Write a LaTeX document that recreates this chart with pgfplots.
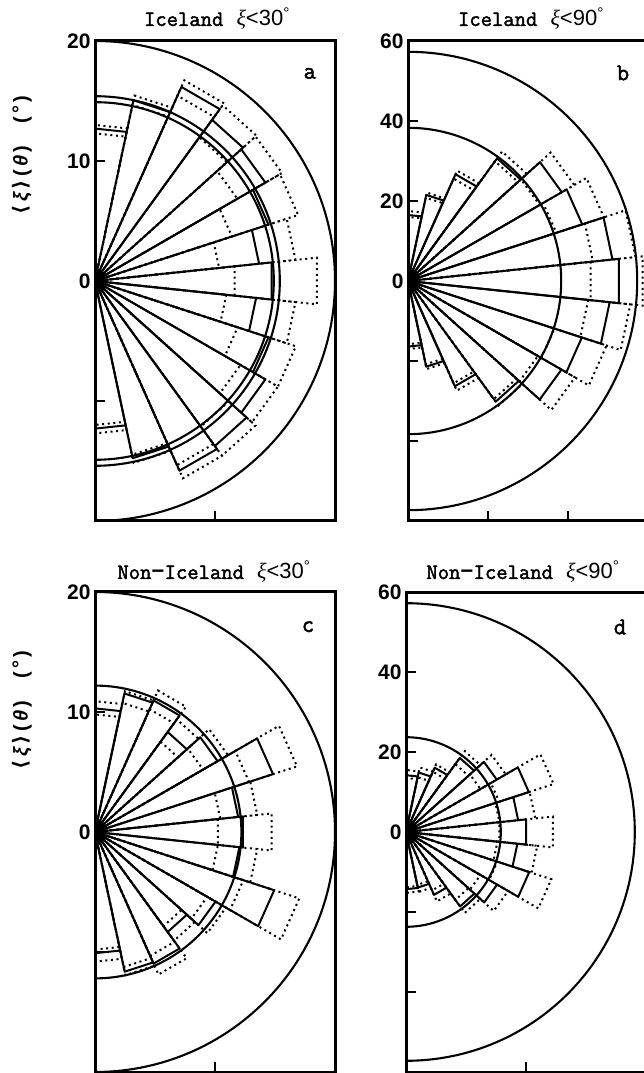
\documentclass[border=0pt]{standalone}
\usepackage{pgfplots}
\pgfplotsset{compat=1.18}
\usepackage{fontspec}
\setmainfont{Liberation Sans}
\setmonofont{Latin Modern Mono}[AutoFakeBold=2]
\newfontfamily\serf{Liberation Serif}
\newfontfamily\dejavu{DejaVu Sans}

% builds three polar coordinate paths (lower, mean, upper) from a1/a2/lo/mid/hi bins
\newcommand\buildrose[1]{%
  \gdef\roselo{}\gdef\rosemid{}\gdef\rosehi{}%
  \foreach \a/\b/\l/\m/\h in {#1} {%
    \xdef\roselo{\roselo (0,0) (\a,\l) (\b,\l)}%
    \xdef\rosemid{\rosemid (0,0) (\a,\m) (\b,\m)}%
    \xdef\rosehi{\rosehi (0,0) (\a,\h) (\b,\h)}%
  }%
}
\newcommand\drawrose{%
  \edef\tmp{\noexpand\addplot[dotrose] coordinates {\roselo (0,0)};}\tmp
  \edef\tmp{\noexpand\addplot[dotrose] coordinates {\rosehi (0,0)};}\tmp
  \edef\tmp{\noexpand\addplot[solidrose] coordinates {\rosemid (0,0)};}\tmp
}
\newcommand\ttl[2]{{\ttfamily\bfseries #1}\hspace{0.6em}{\serf\itshape ξ}<#2\textsuperscript{°}}

\tikzset{
  circ/.style={line width=2.1pt},
  panlab/.style={font=\ttfamily\bfseries\fontsize{24}{24}\selectfont},
}

\begin{document}
\begin{tikzpicture}
\pgfplotsset{
  rose/.style={scale only axis, width=240pt, height=480pt, anchor=south west,
    axis line style={line width=3pt}, tick style={line width=2.4pt, black},
    tick align=inside, major tick length=10pt, xtick pos=bottom, ytick pos=left,
    ticklabel style={font=\fontsize{21}{21}\selectfont\bfseries},
    yticklabel style={xshift=-1pt},
    xticklabels={}, /pgf/number format/assume math mode=true},
  solidrose/.style={black, line width=2pt, mark=none, data cs=polar, line join=round},
  dotrose/.style={black, line width=2pt, mark=none, data cs=polar, dash pattern=on 2pt off 3.6pt},
}

% ---------------- panel a: Iceland xi<30
\buildrose{-90/-78/12.0/12.3/12.7, -78/-66/14.8/15.1/15.5, -66/-54/16.8/17.3/18.0,
  -54/-42/15.0/17.0/18.0, -42/-30/14.0/16.4/17.6, -30/-18/12.5/15.2/17.6,
  -18/-6/11.0/13.5/16.8, -6/6/11.7/14.8/18.6, 6/18/10.4/13.75/16.8,
  18/30/12.0/15.2/17.8, 30/42/13.7/16.4/18.0, 42/54/14.8/16.6/18.1,
  54/66/16.9/17.7/18.3, 66/78/15.0/15.4/15.8, 78/90/12.3/12.7/13.0}
\begin{axis}[rose, at={(95pt,552pt)}, xmin=0, xmax=20, ymin=-20, ymax=20,
  xtick={10}, ytick={-10,0,10,20}, yticklabels={,0,10,20}]
\draw[circ] (axis cs:0,0) circle[radius=20];
\draw[circ] (axis cs:0,0) circle[radius=15.4];
\draw[circ] (axis cs:0,0) circle[radius=14.9];
\drawrose
\node[panlab] at (axis cs:17.9,17.3) {a};
\end{axis}

% ---------------- panel b: Iceland xi<90
\buildrose{-90/-78/15.8/16.4/17.0, -78/-66/21.3/21.9/22.5, -66/-54/28.0/28.8/30.0,
  -54/-42/36.5/37.3/38.5, -42/-30/37.5/44.3/48.2, -30/-18/38.5/45.7/52.2,
  -18/-6/45.3/50.7/55.9, -6/6/45.9/53.0/59.0, 6/18/46.5/51.4/57.2,
  18/30/39.0/45.8/51.5, 30/42/38.0/44.4/48.0, 42/54/37.0/37.9/40.0,
  54/66/28.0/29.2/30.2, 66/78/21.3/22.0/22.6, 78/90/16.0/16.5/17.5}
\begin{axis}[rose, at={(408pt,552pt)}, xmin=0, xmax=60, ymin=-60, ymax=60,
  xtick={20,40}, ytick={-40,-20,0,20,40,60}, yticklabels={,,0,20,40,60}]
\draw[circ] (axis cs:0,0) circle[radius=57.3];
\draw[circ] (axis cs:0,0) circle[radius=38.3];
\drawrose
\node[panlab] at (axis cs:53.75,52) {b};
\end{axis}

% ---------------- panel c: Non-Iceland xi<30
\buildrose{-90/-78/9.8/10.1/10.8, -78/-66/11.5/11.9/12.2, -66/-54/11.3/12.0/13.0,
  -54/-42/9.7/10.3/11.2, -42/-30/10.8/11.6/12.6, -30/-18/13.0/15.7/17.9,
  -18/-6/10.3/12.1/13.6, -6/6/10.3/12.4/14.8, 6/18/10.5/12.0/13.6,
  18/30/13.5/15.6/17.7, 30/42/10.4/11.8/12.8, 42/54/9.3/10.3/11.6,
  54/66/11.2/12.0/12.9, 66/78/11.0/11.8/12.0, 78/90/9.8/10.3/10.9}
\begin{axis}[rose, at={(95pt,1pt)}, xmin=0, xmax=20, ymin=-20, ymax=20,
  xtick={10}, ytick={-10,0,10,20}, yticklabels={,0,10,20}]
\draw[circ] (axis cs:0,0) circle[radius=20];
\draw[circ] (axis cs:0,0) circle[radius=12.2];
\drawrose
\node[panlab] at (axis cs:17.75,17.1) {c};
\end{axis}

% ---------------- panel d: Non-Iceland xi<90
\buildrose{-90/-78/13.8/14.3/15.2, -78/-66/13.5/14.2/15.3, -66/-54/16.0/17.2/19.0,
  -54/-42/21.0/23.0/25.0, -42/-30/21.5/26.3/29.5, -30/-18/24.0/32.4/38.2,
  -18/-6/23.0/28.0/33.0, -6/6/23.5/30.2/36.9, 6/18/23.5/28.2/32.5,
  18/30/24.5/32.3/38.8, 30/42/21.5/26.2/28.8, 42/54/21.0/22.9/25.0,
  54/66/16.5/17.6/18.5, 66/78/14.0/15.2/16.5, 78/90/13.5/14.2/15.5}
\begin{axis}[rose, at={(406pt,1pt)}, xmin=0, xmax=60, ymin=-60, ymax=60,
  xtick={30}, ytick={-40,-20,0,20,40,60}, yticklabels={,,0,20,40,60}]
\draw[circ] (axis cs:0,0) circle[radius=57.2];
\draw[circ] (axis cs:0,0) circle[radius=23.7];
\drawrose
\node[panlab] at (axis cs:53.5,51.25) {d};
\end{axis}

% ---------------- titles and y labels
\node[anchor=base, font=\fontsize{22}{22}\selectfont] at (217pt,1047pt) {\ttl{Iceland}{30}};
\node[anchor=base, font=\fontsize{22}{22}\selectfont] at (531pt,1047pt) {\ttl{Iceland}{90}};
\node[anchor=base, font=\fontsize{22}{22}\selectfont] at (214pt,494pt) {\ttl{Non{\fontspec{Liberation Mono}−}Iceland}{30}};
\node[anchor=base, font=\fontsize{22}{22}\selectfont] at (523pt,494pt) {\ttl{Non{\fontspec{Liberation Mono}−}Iceland}{90}};
\node[rotate=90, font=\fontsize{20}{20}\selectfont\bfseries] at (22pt,918pt)
  {{\dejavu ⟨}\,{\itshape ξ}\,{\dejavu ⟩}\,(\,{\itshape θ}\,)\hspace{1.1em}(\,\raisebox{0.1ex}{°}\,)};
\node[rotate=90, font=\fontsize{20}{20}\selectfont\bfseries] at (22pt,363pt)
  {{\dejavu ⟨}\,{\itshape ξ}\,{\dejavu ⟩}\,(\,{\itshape θ}\,)\hspace{1.1em}(\,\raisebox{0.1ex}{°}\,)};

\pgfresetboundingbox
\useasboundingbox (0,0) rectangle (644pt,1073pt);
\end{tikzpicture}
\end{document}
